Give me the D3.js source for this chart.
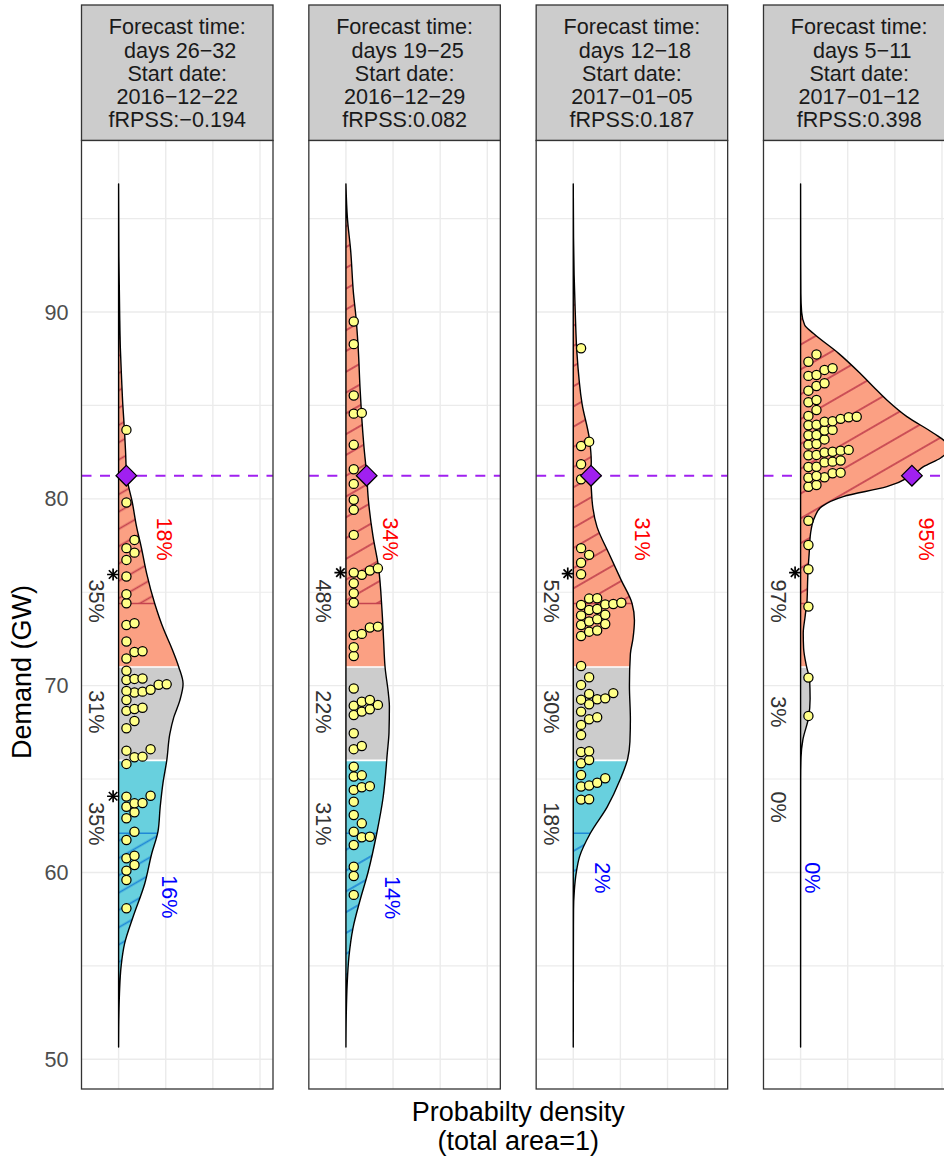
<!DOCTYPE html>
<html>
<head>
<meta charset="utf-8">
<script src="https://cdn.jsdelivr.net/npm/d3@7"></script>
<style>
  html, body { margin: 0; padding: 0; background: #fff; overflow: hidden; }
  svg { display: block; font-family: "Liberation Sans", Arial, Helvetica, sans-serif; }
  text { white-space: pre; }
</style>
</head>
<body>
<svg id="chart" width="944" height="1156"></svg>
<script>
// ---------------------------------------------------------------------------
// Data
// ---------------------------------------------------------------------------
const stripTitles = [
  ["Forecast time:", " days 26\u221232", "Start date:", "2016\u221212\u221222", "fRPSS:\u22120.194"],
  ["Forecast time:", " days 19\u221225", "Start date:", "2016\u221212\u221229", "fRPSS:0.082"],
  ["Forecast time:", " days 12\u221218", "Start date:", "2017\u221201\u221205", "fRPSS:0.187"],
  ["Forecast time:", " days 5\u221211", "Start date:", "2017\u221201\u221212", "fRPSS:0.398"]
];

// Forecast density of demand: [demand (GW), probability density]
const densityP1 = [[50.66,0],[52,0.0002],[53.5,0.0009],[55,0.0027],[56.2,0.0064],[57.6,0.0152],[59.4,0.0277],
  [61,0.0351],[62.2,0.0418],[63.5,0.0441],[64.8,0.0471],[66,0.0511],[67.4,0.0543],[68.3,0.0585],[69.2,0.0649],
  [70.1,0.0684],[71,0.0638],[72,0.0564],[73,0.0479],[74.4,0.0383],[76,0.0298],[77.4,0.0241],[78.5,0.0191],
  [79.8,0.0146],[81.24,0.0085],[82.5,0.0074],[83.7,0.0062],[85,0.0045],[86.4,0.0032],[88,0.0019],[90,0.0011],
  [93,0.0003],[96.86,0]];
const densityP2 = [[50.66,0],[52.5,0.0004],[54,0.0013],[55.5,0.0032],[57,0.0074],[58.5,0.0149],[60,0.0234],
  [62.1,0.0327],[64,0.0394],[66.4,0.0439],[67.5,0.0457],[68.9,0.0461],[69.5,0.0452],[71,0.0415],[72.5,0.0399],
  [74,0.0383],[76.4,0.0344],[78,0.0287],[80,0.0237],[81.28,0.0220],[82.8,0.0191],[84.4,0.0167],[86,0.0149],
  [88,0.0131],[89.75,0.0106],[91,0.0080],[93.3,0.0050],[95,0.0016],[96.86,0]];
const densityP3 = [[50.66,0],[55,0.0001],[58,0.0003],[59,0.0011],[60,0.0032],[60.85,0.0067],[62.1,0.0181],
  [63.5,0.0359],[65,0.0500],[66.1,0.0578],[67,0.0601],[68.2,0.0606],[70,0.0596],[71.7,0.0606],[72.5,0.0633],
  [73.5,0.0649],[74.4,0.0624],[75.66,0.0507],[77.1,0.0376],[78.5,0.0252],[79.94,0.0199],[81.28,0.0188],
  [82,0.0191],[83.15,0.0173],[85.1,0.0093],[87.8,0.0039],[90,0.0021],[92,0.0009],[94,0.0003],[96.86,0]];
const densityP4 = [[50.66,0],[65,0.0001],[66.2,0.0005],[67.1,0.0024],[68.3,0.0085],[69.3,0.0101],[70.3,0.0096],
  [71,0.0064],[72,0.0032],[72.8,0.0028],[73.7,0.0048],[74.6,0.0069],[75.5,0.0074],[76.37,0.0081],[77,0.0090],
  [78.16,0.0106],[79.05,0.0152],[79.58,0.0223],[80.12,0.0453],[80.65,0.0915],[81.24,0.1181],[81.72,0.1304],
  [82.2,0.1489],[82.6,0.1564],[83.0,0.1543],[83.51,0.1411],[84.4,0.1128],[85.29,0.0915],[86.0,0.0772],
  [86.72,0.0631],[87.8,0.0400],[88.86,0.0134],[89.3,0.0043],[90,0.0011],[91,0.0003],[93,0.0001],[96.86,0]];

// Ensemble members (GW)
const membersP1 = [83.69,79.80,77.80,77.36,77.12,76.73,75.84,74.89,74.41,73.34,73.25,72.36,71.84,71.80,71.45,
  70.80,70.38,70.36,70.30,70.05,70.07,69.78,69.72,69.68,69.63,69.23,68.82,68.75,68.65,68.11,67.72,66.60,66.52,
  66.20,66.17,65.81,64.11,64.06,63.72,63.70,63.52,63.22,62.90,62.18,61.74,60.90,60.76,60.40,60.10,59.60,58.08];
const membersP2 = [89.49,88.28,85.53,84.60,84.56,82.89,81.58,80.80,79.95,79.41,78.07,76.28,76.16,76.05,75.93,
  75.48,74.95,74.44,73.16,73.11,72.77,72.71,72.06,71.59,69.85,69.23,69.14,68.97,68.93,68.74,68.61,68.43,67.45,
  66.77,66.60,65.66,65.20,65.14,64.62,64.56,64.42,63.79,63.08,62.63,62.18,61.91,61.88,61.47,60.31,59.81,58.80];
const membersP3 = [88.06,83.06,82.83,81.85,81.05,77.36,77.00,76.58,75.96,74.68,74.66,74.44,74.37,74.35,74.32,
  74.10,74.05,73.80,73.76,73.55,73.43,73.30,73.25,72.95,72.89,72.66,71.05,70.45,70.04,69.60,69.56,69.32,69.27,
  69.25,69.00,68.61,68.31,68.20,67.90,67.36,66.49,66.45,66.02,65.85,65.22,65.04,64.80,64.65,64.60,63.92,63.90];
const membersP4 = [87.73,87.34,86.99,86.90,86.63,86.58,86.19,86.04,85.79,85.29,85.17,84.75,84.44,84.39,84.37,
  84.28,84.15,84.13,83.96,83.94,83.69,83.66,83.42,83.40,83.18,82.93,82.90,82.62,82.58,82.52,82.48,82.35,82.33,
  82.05,81.99,81.95,81.72,81.70,81.40,81.37,81.22,81.15,81.13,80.74,80.65,78.83,77.53,76.23,74.23,70.43,68.38];

// Observed demand and the forecast density at that value
const observedDemand = 81.24;
const observedDensity = [0.0082, 0.0220, 0.0188, 0.1181];

// Marked demand levels (asterisks)
const markedLevels = [[75.95, 64.08], [76.05], [76.0], [76.05]];

// Tercile bounds and extreme thresholds (GW)
const tercileBounds = [66, 71];
const extremeBounds = [62.1, 74.4];

// Probability labels
const tercileProbs = [["35%","31%","35%"], ["48%","22%","31%"], ["52%","30%","18%"], ["97%","3%","0%"]];
const upperExtremeProbs = ["18%", "34%", "31%", "95%"];
const lowerExtremeProbs = ["16%", "14%", "2%", "0%"];

const yTicks = [50, 60, 70, 80, 90];
const yMinorTicks = [55, 65, 75, 85, 95];
const xTicks = [0, 0.05, 0.10, 0.15];

// ---------------------------------------------------------------------------
// Layout
// ---------------------------------------------------------------------------
const densities = [densityP1, densityP2, densityP3, densityP4];
const members = [membersP1, membersP2, membersP3, membersP4];

const panelX0 = 81.5, panelPitch = 227.33, panelW = 191.5;
const stripTop = 5, panelTop = 140.5, panelBottom = 1089;
const fontSmall = 21.6, fontTitle = 27;

// label placement (demand for y, density for x)
const tercileLabelY = [[74.53, 68.6, 62.6], [74.53, 68.6, 62.6], [74.53, 68.6, 62.6], [74.53, 68.6, 63.5]];
const tercileLabelX = -0.0234;
const upperLabelPos = [[0.0489, 77.85], [0.0468, 77.85], [0.0734, 77.85], [0.1340, 77.85]];
const lowerLabelPos = [[0.0543, 58.69], [0.0490, 58.65], [0.0305, 59.71], [0.0131, 59.71]];

// stripe spacing of the hatching in each panel (px, perpendicular to the stripes)
const hatchSpacing = [15, 18, 17.5, 21.5];

const dotBase = 0.0083;   // density position of the first dot column
const dotStep = 8.05;     // px between stacked dots
const dotGap = 8.5;       // min vertical px separation within a column
const dotR = 4.6;
const starOffset = -5.5;  // px from the zero-density line

const redHatch = "#c4434f", blueHatch = "#1f88d6";

const svg = d3.select("#chart");
const defs = svg.append("defs");

const y = d3.scaleLinear().domain([48.41, 99.18]).range([panelBottom, panelTop]);

function hatchPattern(id, color, spacing) {
  const p = defs.append("pattern")
    .attr("id", id)
    .attr("patternUnits", "userSpaceOnUse")
    .attr("width", 24).attr("height", spacing)
    .attr("patternTransform", "rotate(-30)");
  p.append("line")
    .attr("x1", 0).attr("x2", 24)
    .attr("y1", spacing / 2).attr("y2", spacing / 2)
    .attr("stroke", color).attr("stroke-width", 1.7);
}

// one-sided swarm: stack dots sideways into columns when they would overlap
function swarm(values) {
  const placed = [];
  return values.slice().sort((a, b) => a - b).map(v => {
    const py = y(v);
    let col = 0;
    while (placed.some(p => p.col === col && Math.abs(p.py - py) < dotGap)) col++;
    placed.push({ py, col });
    return { value: v, col };
  });
}

function star(g, cx, cy, r) {
  const a = r * Math.SQRT1_2;
  const segs = [[-r, 0, r, 0], [0, -r, 0, r], [-a, -a, a, a], [-a, a, a, -a]];
  segs.forEach(s => g.append("line")
    .attr("x1", cx + s[0]).attr("y1", cy + s[1]).attr("x2", cx + s[2]).attr("y2", cy + s[3])
    .attr("stroke", "#000").attr("stroke-width", 1.7));
}

densities.forEach((dens, i) => {
  const left = panelX0 + i * panelPitch;
  const x = d3.scaleLinear().domain([-0.03936, 0.1638]).range([left, left + panelW]);

  hatchPattern("hatch-red-" + i, redHatch, hatchSpacing[i]);
  hatchPattern("hatch-blue-" + i, blueHatch, hatchSpacing[i]);

  // strip
  svg.append("rect")
    .attr("x", left).attr("y", stripTop).attr("width", panelW).attr("height", panelTop - stripTop)
    .attr("fill", "#cccccc").attr("stroke", "#333333").attr("stroke-width", 1.3);
  const st = svg.append("text")
    .attr("text-anchor", "middle").attr("font-size", fontSmall).attr("fill", "#1a1a1a");
  stripTitles[i].forEach((line, k) => {
    st.append("tspan").attr("x", left + panelW / 2).attr("y", 34.3 + k * 23.2).text(line);
  });

  // panel clip
  defs.append("clipPath").attr("id", "panel-" + i)
    .append("rect").attr("x", left).attr("y", panelTop).attr("width", panelW).attr("height", panelBottom - panelTop);
  const g = svg.append("g").attr("clip-path", "url(#panel-" + i + ")");

  g.append("rect").attr("x", left).attr("y", panelTop).attr("width", panelW)
    .attr("height", panelBottom - panelTop).attr("fill", "#fff");

  // grid
  yMinorTicks.forEach(t => g.append("line")
    .attr("x1", left).attr("x2", left + panelW).attr("y1", y(t)).attr("y2", y(t))
    .attr("stroke", "#ebebeb").attr("stroke-width", 1.1));
  yTicks.forEach(t => g.append("line")
    .attr("x1", left).attr("x2", left + panelW).attr("y1", y(t)).attr("y2", y(t))
    .attr("stroke", "#ebebeb").attr("stroke-width", 1.4));
  xTicks.forEach(t => g.append("line")
    .attr("x1", x(t)).attr("x2", x(t)).attr("y1", panelTop).attr("y2", panelBottom)
    .attr("stroke", "#ebebeb").attr("stroke-width", 1.4));

  // observed demand line
  g.append("line")
    .attr("x1", left).attr("x2", left + panelW)
    .attr("y1", y(observedDemand)).attr("y2", y(observedDemand))
    .attr("stroke", "#a020f0").attr("stroke-width", 2).attr("stroke-dasharray", "10,8.5");

  // density area
  const area = d3.area()
    .y(d => y(d[0]))
    .x0(x(0))
    .x1(d => x(d[1]))
    .curve(d3.curveMonotoneY);
  const areaPath = area(dens);

  defs.append("clipPath").attr("id", "dens-" + i).append("path").attr("d", areaPath);
  const dg = g.append("g").attr("clip-path", "url(#dens-" + i + ")");

  const top = y.domain()[1], bottom = y.domain()[0];
  const bands = [
    [tercileBounds[1], top, "#fba083"],
    [tercileBounds[0], tercileBounds[1], "#cccccc"],
    [bottom, tercileBounds[0], "#68d0de"]
  ];
  bands.forEach(b => dg.append("rect")
    .attr("x", left).attr("width", panelW)
    .attr("y", y(b[1])).attr("height", y(b[0]) - y(b[1]))
    .attr("fill", b[2]));

  // hatched extremes
  dg.append("rect").attr("x", left).attr("width", panelW)
    .attr("y", y(top)).attr("height", y(extremeBounds[1]) - y(top))
    .attr("fill", `url(#hatch-red-${i})`);
  dg.append("rect").attr("x", left).attr("width", panelW)
    .attr("y", y(extremeBounds[0])).attr("height", y(bottom) - y(extremeBounds[0]))
    .attr("fill", `url(#hatch-blue-${i})`);
  dg.append("line").attr("x1", left).attr("x2", left + panelW)
    .attr("y1", y(extremeBounds[1])).attr("y2", y(extremeBounds[1]))
    .attr("stroke", redHatch).attr("stroke-width", 1.5);
  dg.append("line").attr("x1", left).attr("x2", left + panelW)
    .attr("y1", y(extremeBounds[0])).attr("y2", y(extremeBounds[0]))
    .attr("stroke", blueHatch).attr("stroke-width", 1.5);

  // white separators between terciles
  tercileBounds.forEach(t => dg.append("line")
    .attr("x1", left).attr("x2", left + panelW).attr("y1", y(t)).attr("y2", y(t))
    .attr("stroke", "#fff").attr("stroke-width", 1.6));

  // density outline
  g.append("path").attr("d", areaPath)
    .attr("fill", "none").attr("stroke", "#000").attr("stroke-width", 1.4)
    .attr("stroke-linejoin", "round");

  // asterisks
  markedLevels[i].forEach(v => star(g, x(0) + starOffset, y(v), 6));

  // ensemble members
  swarm(members[i]).forEach(d => g.append("circle")
    .attr("cx", x(dotBase) + d.col * dotStep)
    .attr("cy", y(d.value))
    .attr("r", dotR)
    .attr("fill", "#ffff88").attr("stroke", "#000").attr("stroke-width", 1.25));

  // observed value on the density
  const ox = x(observedDensity[i]), oy = y(observedDemand), dr = 10.3;
  g.append("path")
    .attr("d", `M${ox},${oy - dr}L${ox + dr},${oy}L${ox},${oy + dr}L${ox - dr},${oy}Z`)
    .attr("fill", "#a020f0").attr("stroke", "#000").attr("stroke-width", 1.3);

  // probability labels
  const rotText = (px, py, txt, color) => g.append("text")
    .attr("transform", `translate(${px},${py}) rotate(90)`)
    .attr("text-anchor", "middle").attr("dominant-baseline", "central")
    .attr("font-size", fontSmall).attr("fill", color).text(txt);
  tercileProbs[i].forEach((t, k) => rotText(x(tercileLabelX), y(tercileLabelY[i][k]), t, "#333333"));
  rotText(x(upperLabelPos[i][0]), y(upperLabelPos[i][1]), upperExtremeProbs[i], "#ff0000");
  rotText(x(lowerLabelPos[i][0]), y(lowerLabelPos[i][1]), lowerExtremeProbs[i], "#0000ff");

  // panel border
  svg.append("rect")
    .attr("x", left).attr("y", panelTop).attr("width", panelW).attr("height", panelBottom - panelTop)
    .attr("fill", "none").attr("stroke", "#333333").attr("stroke-width", 1.3);
});

// y axis labels
const yAxis = svg.append("g");
yTicks.forEach(t => yAxis.append("text")
  .attr("x", 68.5).attr("y", y(t))
  .attr("text-anchor", "end").attr("dominant-baseline", "central")
  .attr("font-size", fontSmall).attr("fill", "#4d4d4d").text(t));

svg.append("text")
  .attr("transform", "translate(31,672) rotate(-90)")
  .attr("text-anchor", "middle").attr("font-size", fontTitle).attr("fill", "#000")
  .text("Demand (GW)");

const xTitle = svg.append("text")
  .attr("text-anchor", "middle").attr("font-size", fontTitle).attr("fill", "#000");
const xMid = (panelX0 + panelX0 + 3 * panelPitch + panelW) / 2;
xTitle.append("tspan").attr("x", xMid).attr("y", 1121).text("Probabilty density");
xTitle.append("tspan").attr("x", xMid).attr("y", 1150).text("(total area=1)");
</script>
</body>
</html>
